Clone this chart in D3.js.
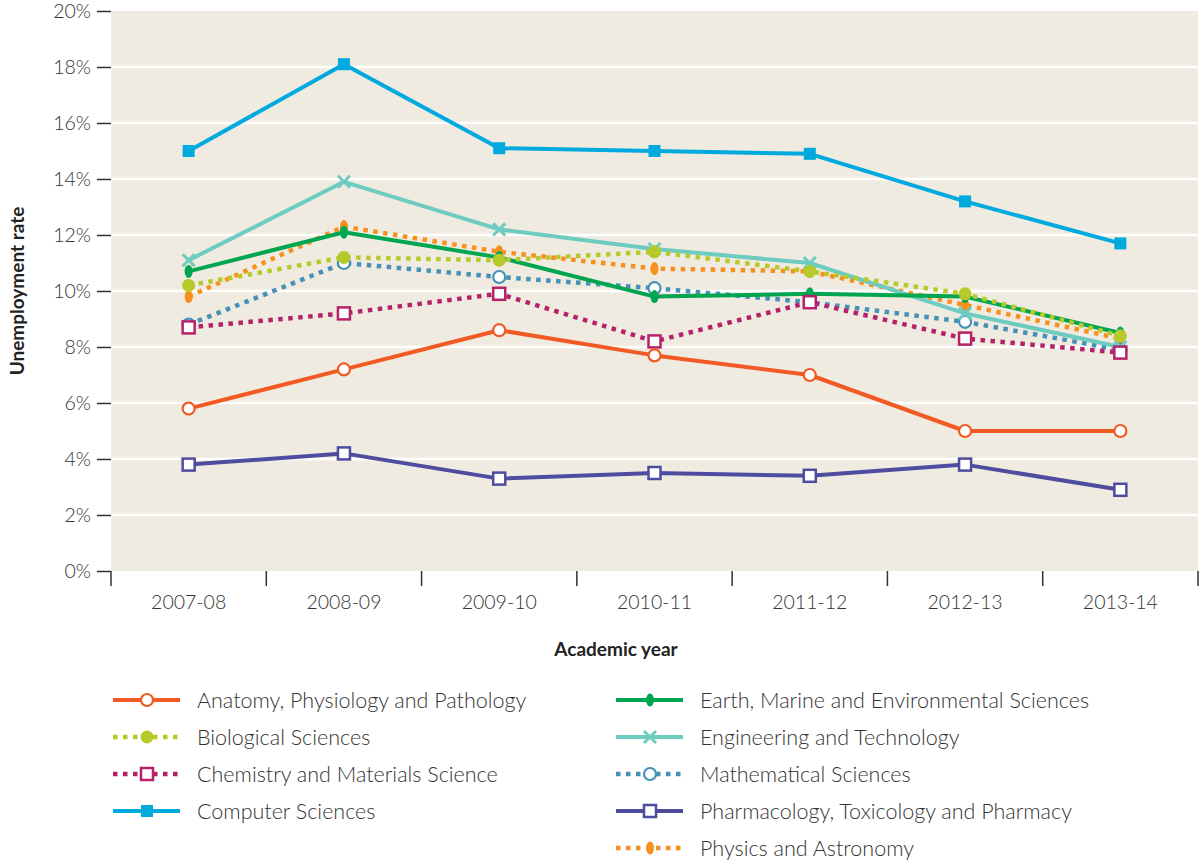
<!DOCTYPE html>
<html lang="en">
<head>
    <meta charset="UTF-8"/>
    <title>Unemployment rate by subject</title>
    <script src="https://d3js.org/d3.v7.min.js"></script>
    <style>
        body { margin: 0; background: #fff; }
        svg { font-family: Lato, "Open Sans", sans-serif; }
        .axis text { font-family: Lato, sans-serif; font-size: 19.5px; font-weight: 300; fill: #333; }
        .axis line { stroke: #333; stroke-width: 1.5; }
        .title { font-family: Lato, sans-serif; font-size: 19px; font-weight: 700; fill: #222; }
        .legend text { font-size: 21.5px; font-weight: 300; fill: #333; }
    </style>
</head>
<body></body>
<script type="text/javascript">
    let width = 1204,
        height = 861;

    let years = ["2007-08", "2008-09", "2009-10", "2010-11", "2011-12", "2012-13", "2013-14"];
    let yTicks = [0, 2, 4, 6, 8, 10, 12, 14, 16, 18, 20];

    let anatomy     = [5.8, 7.2, 8.6, 7.7, 7.0, 5.0, 5.0];
    let biological  = [10.2, 11.2, 11.1, 11.4, 10.7, 9.9, 8.4];
    let chemistry   = [8.7, 9.2, 9.9, 8.2, 9.6, 8.3, 7.8];
    let computer    = [15.0, 18.1, 15.1, 15.0, 14.9, 13.2, 11.7];
    let earth       = [10.7, 12.1, 11.2, 9.8, 9.9, 9.8, 8.5];
    let engineering = [11.1, 13.9, 12.2, 11.5, 11.0, 9.2, 8.0];
    let maths       = [8.8, 11.0, 10.5, 10.1, 9.6, 8.9, 7.9];
    let pharmacy    = [3.8, 4.2, 3.3, 3.5, 3.4, 3.8, 2.9];
    let physics     = [9.8, 12.3, 11.4, 10.8, 10.7, 9.5, 8.3];

    // series list: name, values, colour, dotted line?, marker type
    let series = [
        {name: "Anatomy, Physiology and Pathology", values: anatomy, color: "#f15a24", dotted: false, marker: "ocircle"},
        {name: "Biological Sciences", values: biological, color: "#b7c92b", dotted: true, marker: "circle"},
        {name: "Chemistry and Materials Science", values: chemistry, color: "#b5226a", dotted: true, marker: "osquare"},
        {name: "Computer Sciences", values: computer, color: "#00a9de", dotted: false, marker: "square"},
        {name: "Earth, Marine and Environmental Sciences", values: earth, color: "#00a54f", dotted: false, marker: "ellipse"},
        {name: "Engineering and Technology", values: engineering, color: "#6dcbbf", dotted: false, marker: "x"},
        {name: "Mathematical Sciences", values: maths, color: "#4591b8", dotted: true, marker: "ocircle"},
        {name: "Pharmacology, Toxicology and Pharmacy", values: pharmacy, color: "#4e4c9f", dotted: false, marker: "osquare"},
        {name: "Physics and Astronomy", values: physics, color: "#f7901e", dotted: true, marker: "ellipse"}
    ];

    let plot = {left: 111, right: 1198, top: 11, bottom: 571};

    let svg = d3.select("body").append("svg")
        .attr("width", width)
        .attr("height", height);

    let x = d3.scaleBand()
        .domain(years)
        .range([plot.left, plot.right]);
    let y = d3.scaleLinear()
        .domain([0, 20])
        .range([plot.bottom, plot.top]);

    // background
    svg.append("rect")
        .attr("x", plot.left)
        .attr("y", plot.top)
        .attr("width", plot.right - plot.left)
        .attr("height", plot.bottom - plot.top)
        .attr("fill", "#f0ebe1");

    // white grid lines
    svg.append("g")
        .selectAll("line")
        .data(yTicks.slice(1, -1))
        .enter().append("line")
        .attr("x1", plot.left)
        .attr("x2", plot.right)
        .attr("y1", d => y(d))
        .attr("y2", d => y(d))
        .attr("stroke", "#fff")
        .attr("stroke-width", 2.5);

    // y axis
    let yAxis = svg.append("g")
        .attr("class", "axis")
        .attr("transform", "translate(" + plot.left + ",0)")
        .call(d3.axisLeft(y).tickValues(yTicks).tickSize(14).tickPadding(6).tickFormat(d => d + "%"));
    yAxis.select(".domain").remove();

    // x axis labels at band centres
    let xAxis = svg.append("g")
        .attr("class", "axis")
        .attr("transform", "translate(0," + plot.bottom + ")")
        .call(d3.axisBottom(x).tickSize(0).tickPadding(24));
    xAxis.select(".domain").remove();

    // x ticks at band boundaries
    let bounds = years.map(d => x(d)).concat([x(years[years.length - 1]) + x.bandwidth()]);
    svg.append("g")
        .attr("class", "axis")
        .selectAll("line")
        .data(bounds)
        .enter().append("line")
        .attr("x1", d => d)
        .attr("x2", d => d)
        .attr("y1", plot.bottom)
        .attr("y2", plot.bottom + 15);

    // axis titles
    svg.append("text")
        .attr("class", "title")
        .attr("text-anchor", "middle")
        .attr("transform", "translate(24," + y(10) + ") rotate(-90)")
        .text("Unemployment rate");
    svg.append("text")
        .attr("class", "title")
        .attr("text-anchor", "middle")
        .attr("x", 616)
        .attr("y", 656)
        .text("Academic year");

    function drawMarker(g, type, color) {
        if (type === "ocircle") {
            g.append("circle").attr("r", 6).attr("fill", "#fff").attr("stroke", color).attr("stroke-width", 2.2);
        } else if (type === "circle") {
            g.append("circle").attr("r", 6.5).attr("fill", color);
        } else if (type === "osquare") {
            g.append("rect").attr("x", -6).attr("y", -6).attr("width", 12).attr("height", 12)
                .attr("fill", "#fff").attr("stroke", color).attr("stroke-width", 2.5);
        } else if (type === "square") {
            g.append("rect").attr("x", -6).attr("y", -6).attr("width", 12).attr("height", 12).attr("fill", color);
        } else if (type === "ellipse") {
            g.append("ellipse").attr("rx", 4).attr("ry", 6.5).attr("fill", color);
        } else if (type === "x") {
            g.append("path").attr("d", "M-6,-6L6,6M6,-6L-6,6")
                .attr("stroke", color).attr("stroke-width", 3).attr("fill", "none");
        }
    }

    let line = d3.line()
        .x((d, i) => x(years[i]) + x.bandwidth() / 2)
        .y(d => y(d));

    // draw last legend item first so early ones sit on top
    series.slice().reverse().forEach(function(s) {
        let g = svg.append("g");
        g.append("path")
            .attr("d", line(s.values))
            .attr("fill", "none")
            .attr("stroke", s.color)
            .attr("stroke-width", s.dotted ? 4.5 : 4)
            .attr("stroke-dasharray", s.dotted ? "4.5,5.5" : null)
            .attr("stroke-linejoin", "round");
        s.values.forEach(function(v, i) {
            let m = g.append("g")
                .attr("transform", "translate(" + (x(years[i]) + x.bandwidth() / 2) + "," + y(v) + ")");
            drawMarker(m, s.marker, s.color);
        });
    });

    // legend in two columns
    let legendRows = [
        {col: 0, row: 0}, {col: 0, row: 1}, {col: 0, row: 2}, {col: 0, row: 3},
        {col: 1, row: 0}, {col: 1, row: 1}, {col: 1, row: 2}, {col: 1, row: 3}, {col: 1, row: 4}
    ];
    let legendX = [113, 616],
        legendY = 700,
        rowStep = 37;

    let legend = svg.append("g").attr("class", "legend");
    series.forEach(function(s, i) {
        let p = legendRows[i];
        let g = legend.append("g")
            .attr("transform", "translate(" + legendX[p.col] + "," + (legendY + p.row * rowStep) + ")");
        g.append("line")
            .attr("x1", 0).attr("x2", 67)
            .attr("stroke", s.color)
            .attr("stroke-width", s.dotted ? 4.5 : 4)
            .attr("stroke-dasharray", s.dotted ? "4.5,5.5" : null);
        drawMarker(g.append("g").attr("transform", "translate(34,0)"), s.marker, s.color);
        g.append("text")
            .attr("x", 84)
            .attr("dy", "0.35em")
            .text(s.name);
    });
</script>
</html>
